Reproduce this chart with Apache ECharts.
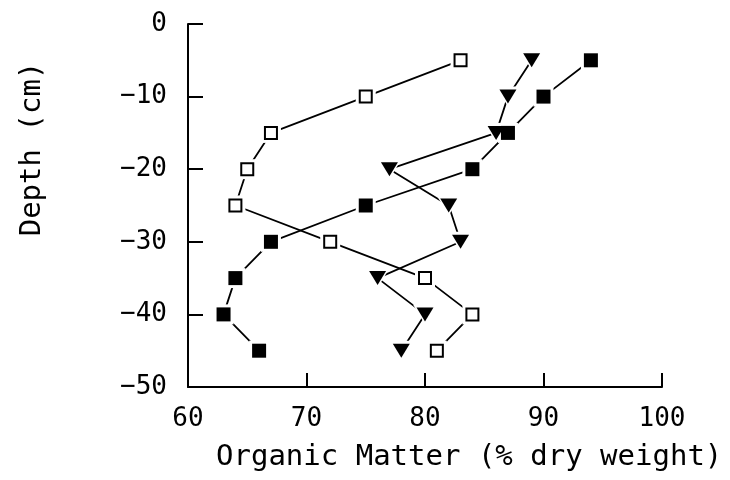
<!DOCTYPE html>
<html>
<head>
<meta charset="utf-8">
<script src="https://cdn.jsdelivr.net/npm/echarts@6/dist/echarts.min.js"></script>
<style>
  html, body { margin: 0; padding: 0; background: #fff; }
  #chart { width: 730px; height: 480px; }
</style>
</head>
<body>
<div id="chart"></div>
<script>
// Sampling depths (cm below surface)
const depths = [-5, -10, -15, -20, -25, -30, -35, -40, -45];
// Organic matter (% dry weight) for each profile
const openSquares = [83, 75, 67, 65, 64, 72, 80, 84, 81];
const filledSquares = [94, 90, 87, 84, 75, 67, 64, 63, 66];
const triangles = [89, 87, 86, 77, 82, 83, 76, 80, 78];
// Axis ranges and tick steps
const xRange = [60, 100, 10];
const yRange = [-50, 0, 10];

const FONT = 'DejaVu Sans Mono';
const INK = '#000';

function pairs(values) {
  return values.map((v, i) => [v, depths[i]]);
}

const profiles = [
  { values: openSquares, symbol: 'rect', size: 12, fill: '#fff', border: 2, rotate: 0, halo: 20 },
  { values: filledSquares, symbol: 'rect', size: 14, fill: INK, border: 0, rotate: 0, halo: 20 },
  { values: triangles, symbol: 'triangle', size: [17, 14], fill: INK, border: 0, rotate: 180, halo: [24, 20] }
];

const series = [];
// connecting lines
profiles.forEach(p => series.push({
  type: 'line', data: pairs(p.values), showSymbol: false, z: 1,
  lineStyle: { color: INK, width: 1.8 }, silent: true
}));
// white clearance behind each marker so lines stop short of it
profiles.forEach(p => series.push({
  type: 'scatter', data: pairs(p.values), z: 2, symbol: p.symbol,
  symbolSize: p.halo, symbolRotate: p.rotate,
  itemStyle: { color: '#fff', opacity: 1 }, silent: true
}));
// markers
profiles.forEach(p => series.push({
  type: 'scatter', data: pairs(p.values), z: 3, symbol: p.symbol,
  symbolSize: p.size, symbolRotate: p.rotate,
  itemStyle: { color: p.fill, borderColor: INK, borderWidth: p.border, opacity: 1 }, silent: true
}));

const minus = v => String(v).replace('-', '\u2212');

const chart = echarts.init(document.getElementById('chart'), null, { renderer: 'canvas' });
chart.setOption({
  animation: false,
  backgroundColor: '#fff',
  grid: { left: 188, right: 68, top: 24, bottom: 93, containLabel: false },
  xAxis: {
    type: 'value', position: 'bottom', min: xRange[0], max: xRange[1], interval: xRange[2],
    axisLine: { show: true, onZero: false, lineStyle: { color: INK, width: 2 } },
    axisTick: { show: true, inside: true, length: 14, lineStyle: { color: INK, width: 2 } },
    axisLabel: { color: INK, fontFamily: FONT, fontSize: 26, margin: 19, formatter: minus },
    splitLine: { show: false }
  },
  yAxis: {
    type: 'value', position: 'left', min: yRange[0], max: yRange[1], interval: yRange[2],
    axisLine: { show: true, onZero: false, lineStyle: { color: INK, width: 2 } },
    axisTick: { show: true, inside: true, length: 15, lineStyle: { color: INK, width: 2 } },
    axisLabel: { color: INK, fontFamily: FONT, fontSize: 26, margin: 21, formatter: minus },
    splitLine: { show: false }
  },
  graphic: [
    {
      type: 'text', x: 216, y: 457,
      style: { text: 'Organic Matter (% dry weight)', fill: INK, font: '29px "' + FONT + '"',
               textAlign: 'left', textVerticalAlign: 'middle' }
    },
    {
      type: 'text', x: 32, y: 149, rotation: Math.PI / 2,
      style: { text: 'Depth (cm)', fill: INK, font: '29px "' + FONT + '"',
               textAlign: 'center', textVerticalAlign: 'middle' }
    }
  ],
  series: series
});
</script>
</body>
</html>
